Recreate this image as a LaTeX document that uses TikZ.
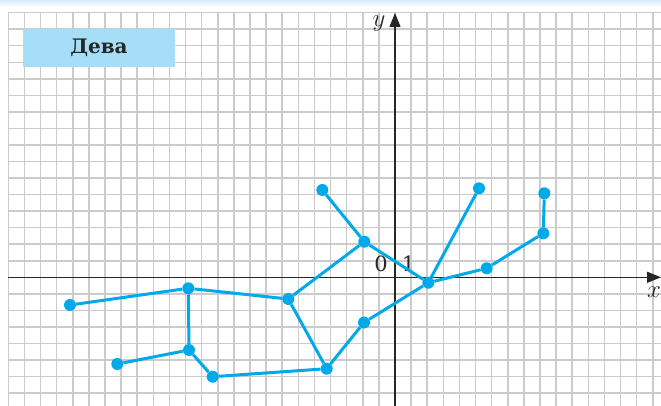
\documentclass[tikz,border=0pt]{standalone}
\usepackage{fontspec}
\newfontfamily\titlefont{DejaVu Serif}
\usetikzlibrary{arrows.meta}
\definecolor{lineblue}{RGB}{0,169,232}
\definecolor{boxblue}{RGB}{166,222,248}
\definecolor{gridgray}{RGB}{203,203,205}
\definecolor{topblue}{RGB}{215,238,250}
\tikzset{
  gridline/.style={draw=gridgray, line width=1.5pt},
  axisline/.style={draw=black!85, line width=1.3pt, -{Triangle[length=14pt,width=11pt]}},
  dot/.style={circle, fill=lineblue, inner sep=0pt, minimum size=12pt},
  conn/.style={draw=lineblue, line width=3pt},
  titlebox/.style={fill=boxblue, minimum width=152pt, minimum height=37.4pt, inner sep=0pt,
    font=\titlefont\bfseries\fontsize{20}{22}\selectfont, text=black!85},
  numlabel/.style={font=\titlefont\fontsize{21}{21}\selectfont, inner sep=0pt, text=black!85},
  axlabel/.style={font=\fontsize{25}{25}\selectfont, inner sep=0pt, text=black!85}
}
\begin{document}
\begin{tikzpicture}[x=1pt,y=-1pt]
\useasboundingbox (0,0) rectangle (661,406);
\fill[white] (0,0) rectangle (661,406);
\shade[top color=topblue, bottom color=white] (0,0) rectangle (661,7);
\begin{scope}
\clip (0,0) rectangle (661,406);
\foreach \k in {-24,...,16} \draw[gridline] ({395+16.11*\k},12.7) -- ({395+16.11*\k},406);
\foreach \m in {-7,...,16} \draw[gridline] (8.3,{277.3-16.54*\m}) -- (661,{277.3-16.54*\m});
\end{scope}
% axes
\coordinate (xl) at (8.3,277.3);
\coordinate (xr) at (661,277.3);
\coordinate (yb) at (395,406);
\coordinate (yt) at (395,13);
\draw[axisline] (xl) -- (xr);
\draw[axisline] (yb) -- (yt);
\node[axlabel] (ylab) at (379,24) {$y$};
\node[axlabel] (xlab) at (654,292) {$x$};
\node[numlabel] (zero) at (381,264) {0};
\node[numlabel] (one) at (408.5,264) {1};
% title
\node[titlebox] (title) at (99,48) {Дева};
% points
\node[dot] (A) at (322.3,190) {};
\node[dot] (B) at (364.3,241.7) {};
\node[dot] (C) at (428.3,282.7) {};
\node[dot] (D) at (479,188.3) {};
\node[dot] (E) at (486.7,268.3) {};
\node[dot] (F) at (543.3,233.3) {};
\node[dot] (G) at (544.3,193.3) {};
\node[dot] (H) at (288.3,299) {};
\node[dot] (I) at (70,305) {};
\node[dot] (J) at (188.3,288.3) {};
\node[dot] (L) at (189,350) {};
\node[dot] (M) at (117.3,364) {};
\node[dot] (N) at (212.7,376.7) {};
\node[dot] (O) at (326.7,368.7) {};
\node[dot] (P) at (364,322.5) {};
% connectors
\draw[conn] (I) -- (J);
\draw[conn] (J) -- (H);
\draw[conn] (J) -- (L);
\draw[conn] (L) -- (M);
\draw[conn] (L) -- (N);
\draw[conn] (N) -- (O);
\draw[conn] (O) -- (H);
\draw[conn] (O) -- (P);
\draw[conn] (P) -- (C);
\draw[conn] (H) -- (B);
\draw[conn] (B) -- (A);
\draw[conn] (B) -- (C);
\draw[conn] (C) -- (D);
\draw[conn] (C) -- (E);
\draw[conn] (E) -- (F);
\draw[conn] (F) -- (G);
\end{tikzpicture}
\end{document}
